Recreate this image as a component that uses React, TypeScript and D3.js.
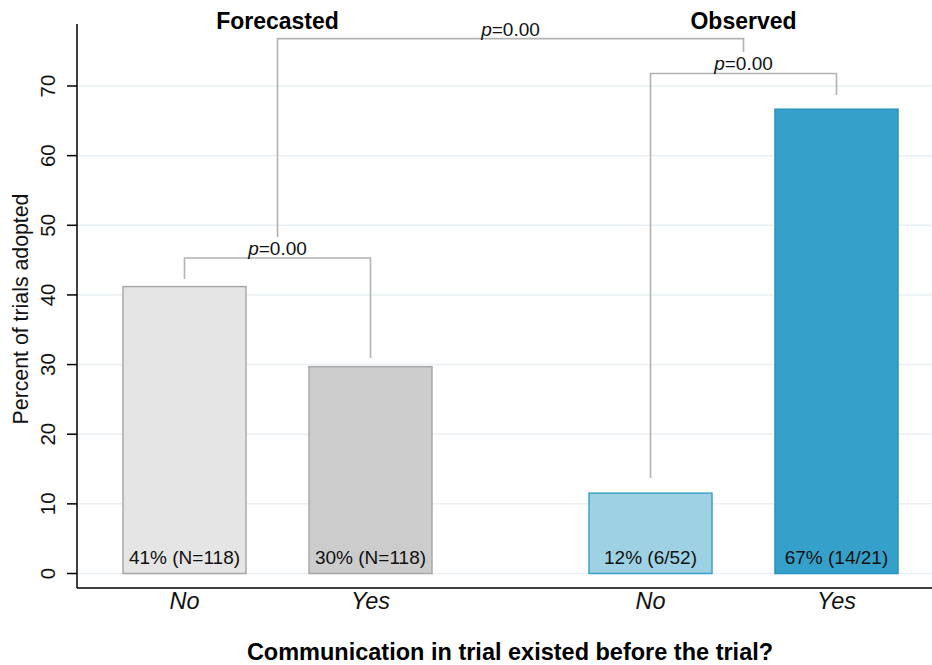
import React from "react";
import * as d3 from "d3";

// Adoption rates by prior communication, forecasted vs observed
const categories = ["No", "Yes", "No", "Yes"];
const values = [41.2, 29.7, 11.54, 66.67];
const barLabels = ["41% (N=118)", "30% (N=118)", "12% (6/52)", "67% (14/21)"];
const fills = ["#e5e5e5", "#cccccc", "#9dd1e3", "#35a0c9"];
const strokes = ["#a9a9a9", "#a9a9a9", "#3aa3c9", "#2a93c0"];
const yTicks = [0, 10, 20, 30, 40, 50, 60, 70];
const groupTitles = ["Forecasted", "Observed"];

// Significance bracket heights (data units): within-forecast, within-observed, between groups
const bracketLevels = [45.3, 71.8, 76.8];
const bracketLabels = ["0.00", "0.00", "0.00"];

const W = 932;
const H = 665;

export default function App() {
  const left = 77;
  const right = 932;
  const axisY = 588;

  const y = d3.scaleLinear().domain([0, 70]).range([573.5, 86]);
  // two groups of two bars each, with a wider gap between groups
  const xf = d3.scaleLinear().domain([0, 1]).range([184.5, 370.5]);
  const xo = d3.scaleLinear().domain([2, 3]).range([650.5, 836.5]);
  const centers = values.map((_, i) => (i < 2 ? xf(i) : xo(i)));
  const barW = 123;

  const font = "'Liberation Sans', Arial, Helvetica, sans-serif";
  const gray = "#b3b3b3";

  const midL = (centers[0] + centers[1]) / 2;
  const midR = (centers[2] + centers[3]) / 2;

  const bLeft = y(bracketLevels[0]);
  const bRight = y(bracketLevels[1]);
  const bTop = y(bracketLevels[2]);

  const pLabel = (px: number, py: number, val: string, key: string) => (
    <text key={key} x={px} y={py} textAnchor="middle" fontSize={19} fontFamily={font} fill="#111">
      <tspan fontStyle="italic">p</tspan>={val}
    </text>
  );

  return (
    <svg width={W} height={H} style={{ position: "absolute", left: 0, top: 0, background: "#fff" }}>
      <rect width={W} height={H} fill="#fff" />
      {/* gridlines */}
      {yTicks.map((t) => (
        <line key={"g" + t} x1={left} x2={right} y1={y(t)} y2={y(t)} stroke="#eaf0f3" strokeWidth={1.5} />
      ))}
      {/* bars */}
      {values.map((v, i) => (
        <rect
          key={"b" + i}
          x={centers[i] - barW / 2}
          y={y(v)}
          width={barW}
          height={y(0) - y(v)}
          fill={fills[i]}
          stroke={strokes[i]}
          strokeWidth={1.5}
        />
      ))}
      {/* value labels */}
      {barLabels.map((l, i) => (
        <text key={"l" + i} x={centers[i]} y={564} textAnchor="middle" fontSize={19} fontFamily={font} fill="#111">
          {l}
        </text>
      ))}
      {/* brackets */}
      <g fill="none" stroke={gray} strokeWidth={1.6}>
        <path d={`M${centers[0]},${y(42.3)}V${bLeft}H${centers[1]}V${y(30.95)}`} />
        <path d={`M${centers[2]},${y(13.7)}V${bRight}H${centers[3]}V${y(68.7)}`} />
        <path d={`M${midL},${y(48.3)}V${bTop}H${midR}V${y(74.9)}`} />
      </g>
      {pLabel(midL, bLeft - 3, bracketLabels[0], "p1")}
      {pLabel(midR, bRight - 3, bracketLabels[1], "p2")}
      {pLabel((midL + midR) / 2, bTop - 3, bracketLabels[2], "p3")}
      {/* group titles */}
      <text x={midL} y={29} textAnchor="middle" fontSize={23} fontWeight="bold" fontFamily={font} fill="#000">
        {groupTitles[0]}
      </text>
      <text x={midR} y={29} textAnchor="middle" fontSize={23} fontWeight="bold" fontFamily={font} fill="#000">
        {groupTitles[1]}
      </text>
      {/* axes */}
      <line x1={left} x2={left} y1={24} y2={axisY} stroke="#000" strokeWidth={1.5} />
      <line x1={left} x2={right} y1={axisY} y2={axisY} stroke="#000" strokeWidth={1.5} />
      {yTicks.map((t) => (
        <g key={"t" + t}>
          <line x1={67} x2={left} y1={y(t)} y2={y(t)} stroke="#000" strokeWidth={1.5} />
          <text
            transform={`translate(55,${y(t)}) rotate(-90)`}
            textAnchor="middle"
            fontSize={20.5}
            fontFamily={font}
            fill="#111"
          >
            {t}
          </text>
        </g>
      ))}
      {categories.map((c, i) => (
        <text key={"c" + i} x={centers[i]} y={609} textAnchor="middle" fontSize={23.5} fontStyle="italic" fontFamily={font} fill="#111">
          {c}
        </text>
      ))}
      <text
        transform={`translate(28,309) rotate(-90)`}
        textAnchor="middle"
        fontSize={21.3}
        fontFamily={font}
        fill="#111"
      >
        Percent of trials adopted
      </text>
      <text x={510} y={660} textAnchor="middle" fontSize={23.5} fontWeight="bold" fontFamily={font} fill="#000">
        Communication in trial existed before the trial?
      </text>
    </svg>
  );
}
